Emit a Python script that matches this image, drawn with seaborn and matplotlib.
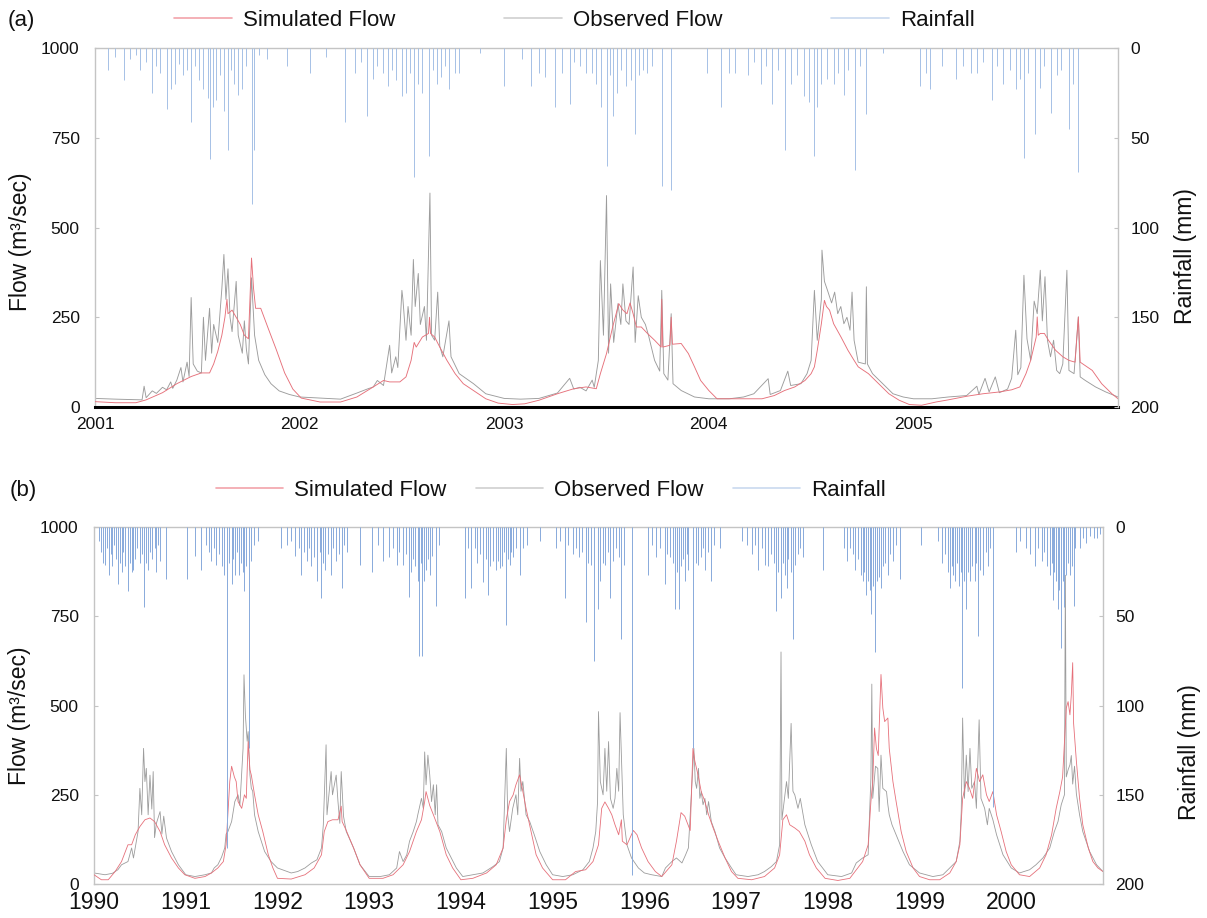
"""
plot.py
=======
Simulated vs observed flow with rainfall hyetograph, two periods.
"""

import matplotlib
matplotlib.use("Agg")
import matplotlib.pyplot as plt
from matplotlib.lines import Line2D
import numpy as np
import pandas as pd
import seaborn as sns

# ── data: panel (a) 2001-2005 (decimal years) ────────────────────────────────

obs_a_t = [2001.00, 2001.10, 2001.23, 2001.24, 2001.25, 2001.28, 2001.30, 2001.33, 2001.35, 2001.37,
           2001.38, 2001.40, 2001.42, 2001.43, 2001.45, 2001.46, 2001.47, 2001.48, 2001.50, 2001.52,
           2001.53, 2001.54, 2001.56, 2001.57, 2001.58, 2001.60, 2001.62, 2001.63, 2001.64, 2001.65,
           2001.66, 2001.67, 2001.69, 2001.70, 2001.72, 2001.73, 2001.74, 2001.75, 2001.765, 2001.78,
           2001.80, 2001.83, 2001.86, 2001.90, 2001.95, 2002.00, 2002.10, 2002.20, 2002.28, 2002.33,
           2002.36, 2002.38, 2002.41, 2002.44, 2002.45, 2002.47, 2002.48, 2002.50, 2002.505, 2002.52,
           2002.53, 2002.545, 2002.556, 2002.565, 2002.58, 2002.59, 2002.61, 2002.62, 2002.637, 2002.645,
           2002.66, 2002.675, 2002.685, 2002.70, 2002.73, 2002.74, 2002.78, 2002.85, 2002.91, 2003.00,
           2003.08, 2003.17, 2003.26, 2003.32, 2003.34, 2003.37, 2003.40, 2003.43, 2003.44, 2003.46,
           2003.47, 2003.485, 2003.50, 2003.51, 2003.52, 2003.535, 2003.556, 2003.57, 2003.58, 2003.595,
           2003.61, 2003.63, 2003.64, 2003.655, 2003.67, 2003.69, 2003.705, 2003.735, 2003.76, 2003.77,
           2003.78, 2003.80, 2003.816, 2003.825, 2003.865, 2003.93, 2004.00, 2004.10, 2004.17, 2004.22,
           2004.29, 2004.30, 2004.35, 2004.386, 2004.40, 2004.45, 2004.48, 2004.50, 2004.516, 2004.53,
           2004.55, 2004.553, 2004.565, 2004.58, 2004.60, 2004.615, 2004.63, 2004.645, 2004.66, 2004.675,
           2004.69, 2004.70, 2004.71, 2004.73, 2004.765, 2004.77, 2004.775, 2004.80, 2004.85, 2004.90,
           2004.95, 2005.00, 2005.09, 2005.17, 2005.26, 2005.31, 2005.32, 2005.35, 2005.37, 2005.40,
           2005.42, 2005.46, 2005.48, 2005.50, 2005.51, 2005.525, 2005.54, 2005.555, 2005.573, 2005.59,
           2005.605, 2005.62, 2005.63, 2005.643, 2005.655, 2005.67, 2005.685, 2005.70, 2005.715, 2005.73,
           2005.75, 2005.76, 2005.785, 2005.806, 2005.815, 2005.84, 2005.89, 2005.94, 2006.00]
obs_a_q = [24, 22, 20, 58, 26, 45, 38, 55, 48, 70,
           52, 75, 110, 70, 125, 85, 305, 120, 100, 95,
           250, 130, 275, 150, 230, 180, 330, 425, 300, 385,
           250, 210, 350, 200, 150, 240, 160, 120, 360, 200,
           130, 90, 65, 45, 35, 28, 25, 22, 39, 50,
           56, 74, 60, 172, 95, 140, 110, 325, 300, 186,
           280, 200, 411, 280, 372, 230, 280, 186, 596, 200,
           186, 320, 170, 140, 240, 140, 93, 65, 37, 24,
           22, 24, 39, 80, 50, 55, 45, 75, 55, 130,
           408, 200, 589, 150, 343, 180, 288, 230, 343, 240,
           230, 390, 180, 310, 250, 230, 200, 130, 100, 325,
           93, 75, 260, 65, 46, 28, 23, 23, 28, 37,
           79, 35, 46, 100, 60, 65, 93, 130, 325, 186,
           300, 437, 350, 325, 290, 320, 260, 280, 232, 250,
           214, 320, 186, 125, 120, 335, 120, 93, 65, 37,
           28, 23, 23, 28, 32, 58, 35, 80, 42, 84,
           40, 50, 80, 214, 90, 110, 367, 190, 130, 295,
           260, 381, 240, 363, 186, 140, 186, 102, 93, 120,
           381, 102, 93, 251, 84, 74, 56, 42, 28]

sim_a_t = [2001.00, 2001.10, 2001.20, 2001.25, 2001.33, 2001.40, 2001.47, 2001.52, 2001.56, 2001.58,
           2001.60, 2001.62, 2001.635, 2001.645, 2001.65, 2001.67, 2001.69, 2001.71, 2001.73, 2001.75,
           2001.765, 2001.775, 2001.785, 2001.81, 2001.846, 2001.886, 2001.927, 2001.967, 2002.008, 2002.10,
           2002.20, 2002.28, 2002.36, 2002.41, 2002.44, 2002.49, 2002.52, 2002.545, 2002.56, 2002.57,
           2002.60, 2002.63, 2002.635, 2002.64, 2002.66, 2002.685, 2002.72, 2002.76, 2002.80, 2002.85,
           2002.91, 2002.97, 2003.04, 2003.10, 2003.17, 2003.26, 2003.34, 2003.40, 2003.45, 2003.47,
           2003.50, 2003.53, 2003.56, 2003.58, 2003.60, 2003.615, 2003.63, 2003.646, 2003.67, 2003.70,
           2003.735, 2003.767, 2003.77, 2003.775, 2003.81, 2003.816, 2003.822, 2003.865, 2003.90, 2003.93,
           2003.96, 2004.00, 2004.04, 2004.17, 2004.26, 2004.32, 2004.37, 2004.42, 2004.47, 2004.50,
           2004.516, 2004.53, 2004.55, 2004.565, 2004.575, 2004.59, 2004.61, 2004.646, 2004.68, 2004.71,
           2004.73, 2004.78, 2004.83, 2004.88, 2004.93, 2004.98, 2005.04, 2005.11, 2005.17, 2005.26,
           2005.34, 2005.42, 2005.48, 2005.52, 2005.55, 2005.573, 2005.60, 2005.605, 2005.61, 2005.62,
           2005.64, 2005.66, 2005.695, 2005.73, 2005.76, 2005.79, 2005.806, 2005.815, 2005.874, 2005.92,
           2005.97, 2006.00]
sim_a_q = [15, 12, 12, 20, 40, 65, 85, 95, 95, 120,
           155, 200, 250, 300, 260, 270, 250, 230, 200, 190,
           415, 330, 275, 275, 220, 160, 95, 50, 25, 14,
           14, 28, 56, 74, 70, 70, 84, 130, 180, 167,
           195, 205, 250, 205, 195, 167, 130, 93, 65, 46,
           23, 11, 7, 9, 19, 37, 51, 56, 51, 93,
           149, 223, 288, 270, 260, 290, 260, 223, 223, 205,
           186, 167, 300, 167, 172, 250, 175, 177, 149, 112,
           74, 46, 23, 23, 23, 32, 46, 56, 74, 93,
           112, 158, 232, 297, 280, 270, 232, 195, 158, 130,
           112, 93, 65, 37, 19, 7, 5, 14, 20, 30,
           37, 42, 48, 56, 93, 130, 195, 251, 200, 205,
           205, 186, 158, 140, 130, 125, 251, 125, 102, 65,
           37, 23]

rain_a_t = [2001.065, 2001.10, 2001.14, 2001.17, 2001.20, 2001.22, 2001.25, 2001.28, 2001.30, 2001.32,
            2001.35, 2001.37, 2001.39, 2001.41, 2001.43, 2001.45, 2001.47, 2001.49, 2001.51, 2001.53,
            2001.55, 2001.56, 2001.575, 2001.59, 2001.61, 2001.63, 2001.65, 2001.665, 2001.68, 2001.70,
            2001.72, 2001.74, 2001.765, 2001.775, 2001.80, 2001.84, 2001.94,
            2002.05, 2002.13, 2002.22, 2002.27, 2002.30, 2002.33, 2002.36, 2002.38, 2002.41, 2002.43,
            2002.45, 2002.47, 2002.50, 2002.52, 2002.54, 2002.56, 2002.58, 2002.60, 2002.63, 2002.65,
            2002.67, 2002.69, 2002.71, 2002.73, 2002.76, 2002.78, 2002.88,
            2003.00, 2003.085, 2003.13, 2003.17, 2003.20, 2003.25, 2003.28, 2003.32, 2003.34, 2003.37,
            2003.40, 2003.43, 2003.45, 2003.474, 2003.50, 2003.515, 2003.53, 2003.55, 2003.57, 2003.596,
            2003.62, 2003.637, 2003.66, 2003.68, 2003.70, 2003.72, 2003.77, 2003.816,
            2003.99, 2004.06, 2004.10, 2004.13, 2004.19, 2004.22, 2004.255, 2004.28, 2004.31, 2004.34,
            2004.37, 2004.40, 2004.43, 2004.467, 2004.49, 2004.516, 2004.53, 2004.55, 2004.58, 2004.61,
            2004.63, 2004.66, 2004.68, 2004.716, 2004.74, 2004.767, 2004.85,
            2005.03, 2005.06, 2005.08, 2005.14, 2005.21, 2005.24, 2005.28, 2005.31, 2005.34, 2005.385,
            2005.41, 2005.44, 2005.47, 2005.50, 2005.52, 2005.54, 2005.56, 2005.594, 2005.62, 2005.64,
            2005.67, 2005.70, 2005.72, 2005.76, 2005.78, 2005.806]
rain_a_mm = [12, 5, 18, 6, 4, 12, 8, 25, 10, 14,
             34, 23, 20, 9, 15, 12, 41, 10, 18, 23,
             28, 62, 33, 29, 15, 35, 57, 12, 20, 26,
             23, 10, 87, 57, 4, 6, 10,
             14, 5, 41, 14, 8, 38, 17, 10, 14, 21,
             12, 18, 27, 25, 14, 72, 20, 25, 60, 12,
             20, 16, 10, 23, 14, 14, 3,
             21, 6, 21, 14, 16, 33, 14, 31, 8, 10,
             14, 14, 20, 33, 66, 15, 38, 25, 12, 21,
             18, 48, 15, 12, 14, 10, 77, 79,
             14, 33, 14, 14, 15, 8, 20, 10, 31, 12,
             57, 20, 15, 27, 30, 60, 33, 20, 17, 20,
             14, 26, 12, 68, 10, 37, 3,
             21, 14, 23, 10, 17, 10, 14, 14, 8, 29,
             10, 20, 12, 23, 17, 61, 14, 48, 22, 10,
             36, 15, 12, 45, 20, 69]

# ── data: panel (b) 1990-2000 (decimal years) ────────────────────────────────

obs_b_t = [1990.00, 1990.12, 1990.20, 1990.26, 1990.30, 1990.37, 1990.41, 1990.43, 1990.48, 1990.50,
           1990.52, 1990.54, 1990.555, 1990.57, 1990.59, 1990.61, 1990.63, 1990.645, 1990.66, 1990.68,
           1990.72, 1990.74, 1990.76, 1990.79, 1990.845, 1990.92, 1991.00, 1991.10, 1991.21, 1991.28,
           1991.31, 1991.35, 1991.39, 1991.425, 1991.44, 1991.46, 1991.50, 1991.535, 1991.57, 1991.59,
           1991.625, 1991.635, 1991.65, 1991.67, 1991.68, 1991.70, 1991.715, 1991.73, 1991.75, 1991.79,
           1991.86, 1991.93, 1992.00, 1992.15, 1992.22, 1992.30, 1992.37, 1992.43, 1992.48, 1992.50,
           1992.53, 1992.54, 1992.585, 1992.60, 1992.64, 1992.66, 1992.68, 1992.695, 1992.72, 1992.75,
           1992.83, 1992.90, 1993.00, 1993.12, 1993.22, 1993.30, 1993.33, 1993.37, 1993.41, 1993.44,
           1993.48, 1993.515, 1993.53, 1993.57, 1993.59, 1993.605, 1993.62, 1993.64, 1993.66, 1993.68,
           1993.70, 1993.72, 1993.735, 1993.75, 1993.79, 1993.84, 1993.95, 1994.02, 1994.13, 1994.24,
           1994.35, 1994.42, 1994.46, 1994.495, 1994.51, 1994.53, 1994.565, 1994.60, 1994.62, 1994.64,
           1994.655, 1994.675, 1994.71, 1994.75, 1994.80, 1994.86, 1994.93, 1995.00, 1995.11, 1995.22,
           1995.33, 1995.40, 1995.44, 1995.47, 1995.49, 1995.50, 1995.52, 1995.55, 1995.57, 1995.59,
           1995.61, 1995.63, 1995.66, 1995.68, 1995.70, 1995.72, 1995.735, 1995.77, 1995.81, 1995.86,
           1995.935, 1996.00, 1996.08, 1996.19, 1996.23, 1996.30, 1996.35, 1996.41, 1996.45, 1996.48,
           1996.50, 1996.515, 1996.54, 1996.555, 1996.57, 1996.59, 1996.605, 1996.62, 1996.64, 1996.66,
           1996.68, 1996.70, 1996.73, 1996.77, 1996.82, 1996.88, 1996.95, 1997.00, 1997.13, 1997.24,
           1997.31, 1997.385, 1997.44, 1997.475, 1997.49, 1997.50, 1997.55, 1997.57, 1997.60, 1997.62,
           1997.64, 1997.675, 1997.70, 1997.75, 1997.82, 1997.89, 1998.00, 1998.15, 1998.26, 1998.31,
           1998.38, 1998.44, 1998.455, 1998.47, 1998.48, 1998.49, 1998.52, 1998.545, 1998.56, 1998.58,
           1998.60, 1998.64, 1998.655, 1998.67, 1998.70, 1998.745, 1998.82, 1998.89, 1999.00, 1999.145,
           1999.255, 1999.33, 1999.40, 1999.44, 1999.455, 1999.47, 1999.49, 1999.51, 1999.53, 1999.55,
           1999.57, 1999.60, 1999.62, 1999.65, 1999.67, 1999.71, 1999.74, 1999.76, 1999.80, 1999.84,
           1999.91, 2000.00, 2000.09, 2000.20, 2000.27, 2000.345, 2000.42, 2000.47, 2000.51, 2000.545,
           2000.58, 2000.59, 2000.60, 2000.62, 2000.64, 2000.655, 2000.67, 2000.69, 2000.71, 2000.745,
           2000.78, 2000.855, 2000.93, 2001.00]
obs_b_q = [31, 26, 30, 40, 54, 63, 101, 73, 147, 268,
           194, 380, 287, 324, 194, 305, 210, 315, 130, 170,
           203, 140, 190, 129, 91, 54, 26, 21, 26, 31,
           45, 54, 75, 101, 140, 147, 175, 231, 250, 220,
           380, 586, 474, 400, 427, 305, 268, 260, 194, 147,
           91, 63, 45, 31, 35, 45, 59, 68, 101, 166,
           390, 194, 315, 250, 305, 230, 170, 315, 190, 147,
           101, 54, 21, 21, 26, 45, 91, 63, 82, 120,
           147, 175, 194, 240, 212, 370, 278, 361, 306, 231,
           278, 194, 278, 166, 147, 101, 45, 21, 26, 31,
           49, 63, 101, 380, 194, 147, 212, 250, 194, 352,
           260, 287, 194, 175, 138, 91, 54, 26, 21, 26,
           40, 63, 101, 147, 231, 483, 287, 250, 380, 260,
           399, 240, 212, 240, 324, 260, 480, 194, 110, 73,
           45, 31, 26, 21, 45, 63, 73, 59, 82, 101,
           194, 268, 380, 287, 268, 324, 240, 259, 222, 240,
           194, 231, 175, 147, 101, 73, 45, 26, 21, 26,
           35, 49, 63, 110, 650, 180, 287, 240, 450, 260,
           250, 212, 240, 166, 110, 63, 26, 21, 31, 59,
           73, 82, 194, 296, 560, 240, 330, 324, 203, 361,
           268, 259, 222, 194, 166, 138, 91, 54, 31, 21,
           26, 45, 63, 120, 203, 465, 240, 361, 259, 380,
           268, 287, 212, 460, 240, 212, 166, 212, 180, 138,
           82, 45, 31, 40, 54, 73, 101, 147, 175, 222,
           250, 865, 300, 320, 334, 360, 280, 330, 253, 194,
           147, 91, 54, 35]

sim_b_t = [1990.00, 1990.08, 1990.155, 1990.23, 1990.30, 1990.37, 1990.41, 1990.45, 1990.50, 1990.555,
           1990.61, 1990.66, 1990.72, 1990.77, 1990.845, 1990.92, 1990.99, 1991.10, 1991.21, 1991.28,
           1991.35, 1991.41, 1991.44, 1991.48, 1991.50, 1991.53, 1991.55, 1991.57, 1991.61, 1991.64,
           1991.66, 1991.68, 1991.70, 1991.715, 1991.75, 1991.79, 1991.84, 1991.90, 1991.95, 1992.00,
           1992.15, 1992.30, 1992.40, 1992.48, 1992.51, 1992.55, 1992.60, 1992.66, 1992.695, 1992.705,
           1992.75, 1992.83, 1992.90, 1993.00, 1993.15, 1993.26, 1993.37, 1993.44, 1993.515, 1993.57,
           1993.605, 1993.62, 1993.64, 1993.66, 1993.70, 1993.77, 1993.84, 1993.91, 1994.00, 1994.13,
           1994.28, 1994.385, 1994.46, 1994.495, 1994.53, 1994.57, 1994.60, 1994.64, 1994.675, 1994.71,
           1994.765, 1994.82, 1994.89, 1995.00, 1995.14, 1995.25, 1995.36, 1995.44, 1995.50, 1995.535,
           1995.57, 1995.61, 1995.645, 1995.68, 1995.72, 1995.75, 1995.76, 1995.81, 1995.88, 1995.92,
           1995.97, 1996.04, 1996.12, 1996.19, 1996.30, 1996.35, 1996.40, 1996.44, 1996.50, 1996.53,
           1996.55, 1996.59, 1996.62, 1996.66, 1996.70, 1996.75, 1996.805, 1996.88, 1996.95, 1997.02,
           1997.17, 1997.31, 1997.42, 1997.475, 1997.51, 1997.55, 1997.585, 1997.64, 1997.69, 1997.75,
           1997.80, 1997.875, 1997.97, 1998.11, 1998.24, 1998.38, 1998.44, 1998.47, 1998.49, 1998.51,
           1998.53, 1998.55, 1998.58, 1998.60, 1998.62, 1998.655, 1998.67, 1998.71, 1998.745, 1998.80,
           1998.855, 1998.93, 1999.00, 1999.11, 1999.22, 1999.33, 1999.40, 1999.44, 1999.47, 1999.51,
           1999.545, 1999.58, 1999.62, 1999.655, 1999.69, 1999.73, 1999.76, 1999.80, 1999.84, 1999.89,
           1999.945, 2000.00, 2000.09, 2000.20, 2000.31, 2000.38, 2000.44, 2000.49, 2000.53, 2000.56,
           2000.60, 2000.62, 2000.64, 2000.655, 2000.67, 2000.68, 2000.71, 2000.745, 2000.78, 2000.84,
           2000.89, 2000.945, 2001.00]
sim_b_q = [26, 12, 12, 35, 63, 110, 110, 138, 161, 180,
           185, 175, 147, 110, 73, 45, 26, 16, 21, 31,
           45, 63, 110, 287, 330, 300, 287, 231, 212, 250,
           240, 399, 320, 305, 250, 194, 147, 82, 45, 16,
           14, 26, 45, 82, 147, 175, 180, 180, 218, 175,
           150, 101, 54, 16, 16, 26, 54, 91, 147, 180,
           231, 259, 240, 220, 194, 147, 82, 45, 12, 16,
           31, 54, 101, 180, 231, 250, 278, 306, 260, 212,
           147, 82, 45, 12, 12, 35, 40, 63, 110, 212,
           230, 212, 194, 166, 138, 180, 120, 110, 150, 138,
           101, 63, 35, 21, 54, 120, 200, 190, 150, 380,
           345, 300, 259, 231, 194, 157, 120, 73, 35, 16,
           12, 21, 45, 82, 180, 194, 166, 157, 147, 120,
           82, 45, 16, 10, 16, 63, 110, 231, 287, 437,
           380, 360, 587, 493, 455, 465, 380, 287, 231, 147,
           91, 45, 21, 12, 12, 31, 63, 110, 240, 287,
           268, 240, 324, 287, 306, 250, 231, 259, 194, 147,
           91, 54, 26, 21, 45, 82, 138, 212, 259, 300,
           493, 511, 474, 530, 620, 450, 345, 240, 166, 101,
           63, 45, 35]

rain_b_t = [1990.05, 1990.08, 1990.10, 1990.12, 1990.14, 1990.16, 1990.18, 1990.20, 1990.22, 1990.24,
            1990.265, 1990.28, 1990.30, 1990.32, 1990.34, 1990.37, 1990.39, 1990.41, 1990.43, 1990.45,
            1990.47, 1990.50, 1990.52, 1990.55, 1990.57, 1990.59, 1990.61, 1990.63, 1990.66, 1990.68,
            1990.70, 1990.72, 1990.79,
            1991.01, 1991.10, 1991.17, 1991.22, 1991.25, 1991.28, 1991.31, 1991.33, 1991.36, 1991.39,
            1991.42, 1991.455, 1991.47, 1991.50, 1991.52, 1991.54, 1991.56, 1991.58, 1991.60, 1991.62,
            1991.64, 1991.66, 1991.69, 1991.71, 1991.74, 1991.79,
            1992.04, 1992.10, 1992.15, 1992.19, 1992.23, 1992.26, 1992.29, 1992.32, 1992.34, 1992.37,
            1992.40, 1992.43, 1992.46, 1992.48, 1992.50, 1992.52, 1992.55, 1992.585, 1992.61, 1992.64,
            1992.67, 1992.70, 1992.72, 1992.76, 1992.90,
            1993.03, 1993.10, 1993.15, 1993.22, 1993.26, 1993.30, 1993.33, 1993.37, 1993.40, 1993.435,
            1993.46, 1993.48, 1993.50, 1993.53, 1993.545, 1993.56, 1993.58, 1993.60, 1993.62, 1993.64,
            1993.66, 1993.69, 1993.73, 1993.76,
            1994.04, 1994.08, 1994.11, 1994.15, 1994.18, 1994.21, 1994.24, 1994.27, 1994.295, 1994.32,
            1994.35, 1994.38, 1994.40, 1994.43, 1994.45, 1994.47, 1994.49, 1994.51, 1994.53, 1994.55,
            1994.57, 1994.60, 1994.64, 1994.68, 1994.72, 1994.86,
            1995.04, 1995.08, 1995.13, 1995.17, 1995.22, 1995.26, 1995.29, 1995.32, 1995.365, 1995.39,
            1995.42, 1995.455, 1995.49, 1995.52, 1995.55, 1995.57, 1995.60, 1995.63, 1995.66, 1995.69,
            1995.72, 1995.75, 1995.78, 1995.86,
            1996.04, 1996.08, 1996.13, 1996.17, 1996.22, 1996.25, 1996.28, 1996.31, 1996.33, 1996.36,
            1996.38, 1996.40, 1996.42, 1996.44, 1996.46, 1996.48, 1996.53, 1996.56, 1996.59, 1996.62,
            1996.64, 1996.66, 1996.69, 1996.73, 1996.76, 1996.82,
            1997.06, 1997.12, 1997.17, 1997.21, 1997.24, 1997.28, 1997.31, 1997.35, 1997.38, 1997.41,
            1997.44, 1997.46, 1997.49, 1997.51, 1997.53, 1997.55, 1997.57, 1997.60, 1997.62, 1997.645,
            1997.67, 1997.70, 1997.73, 1997.95,
            1998.18, 1998.21, 1998.24, 1998.27, 1998.30, 1998.33, 1998.36, 1998.38, 1998.40, 1998.42,
            1998.44, 1998.46, 1998.47, 1998.49, 1998.51, 1998.52, 1998.54, 1998.56, 1998.58, 1998.60,
            1998.62, 1998.655, 1998.68, 1998.71, 1998.74, 1998.79,
            1999.02, 1999.20, 1999.25, 1999.28, 1999.31, 1999.33, 1999.35, 1999.37, 1999.39, 1999.41,
            1999.43, 1999.45, 1999.465, 1999.49, 1999.51, 1999.53, 1999.545, 1999.57, 1999.60, 1999.62,
            1999.64, 1999.66, 1999.69, 1999.72, 1999.745, 1999.77, 1999.80,
            2000.055, 2000.10, 2000.16, 2000.21, 2000.255, 2000.29, 2000.33, 2000.36, 2000.39, 2000.42,
            2000.44, 2000.455, 2000.47, 2000.49, 2000.51, 2000.525, 2000.54, 2000.56, 2000.58, 2000.60,
            2000.62, 2000.64, 2000.66, 2000.68, 2000.70, 2000.745, 2000.78, 2000.82, 2000.86, 2000.90,
            2000.93, 2000.97]
rain_b_mm = [8, 14, 20, 21, 12, 27, 15, 22, 10, 18,
             32, 20, 25, 14, 22, 36, 20, 25, 24, 18,
             12, 20, 15, 45, 20, 24, 14, 18, 12, 25,
             10, 19, 29,
             29, 16, 24, 10, 14, 19, 12, 21, 15, 22,
             27, 180, 20, 32, 18, 27, 14, 27, 20, 25,
             36, 22, 124, 19, 10, 8,
             12, 10, 8, 16, 12, 27, 14, 19, 12, 22,
             17, 30, 14, 40, 20, 24, 15, 27, 12, 19,
             15, 34, 10, 14, 21,
             25, 10, 19, 17, 12, 21, 14, 21, 15, 39,
             25, 18, 22, 30, 72, 20, 72, 30, 24, 18,
             27, 16, 44, 10,
             40, 12, 34, 12, 20, 15, 31, 18, 38, 22,
             19, 24, 19, 23, 22, 14, 55, 18, 21, 14,
             17, 12, 27, 12, 10, 8,
             12, 8, 40, 10, 15, 12, 17, 14, 53, 20,
             21, 75, 46, 30, 20, 21, 14, 40, 19, 12,
             17, 63, 21, 195,
             27, 10, 17, 12, 32, 15, 17, 20, 46, 25,
             46, 22, 18, 30, 15, 24, 124, 20, 21, 17,
             12, 24, 14, 30, 10, 12,
             8, 10, 15, 10, 24, 12, 21, 22, 15, 20,
             47, 25, 40, 20, 27, 34, 18, 25, 63, 21,
             15, 12, 17, 24,
             12, 19, 12, 15, 24, 18, 27, 30, 25, 38,
             30, 35, 49, 33, 53, 70, 30, 28, 34, 22,
             20, 27, 15, 19, 10, 29,
             10, 8, 20, 15, 25, 34, 22, 27, 30, 20,
             33, 25, 90, 30, 46, 25, 30, 22, 30, 20,
             61, 24, 27, 14, 22, 12, 157,
             14, 8, 12, 15, 22, 12, 19, 14, 22, 27,
             20, 41, 25, 30, 46, 35, 68, 30, 45, 27,
             20, 27, 22, 44, 12, 12, 6, 9, 5, 6,
             6, 4]

SERIES = ["Simulated Flow", "Observed Flow", "Rainfall"]
YEARS_A = [2001, 2002, 2003, 2004, 2005]
YEARS_B = [1990, 1991, 1992, 1993, 1994, 1995, 1996, 1997, 1998, 1999, 2000]

# ── style ────────────────────────────────────────────────────────────────────

C_SIM = "#e6707a"
C_OBS = "#9c9c9c"
C_RAIN_A = "#a6c1e6"
C_RAIN_B = "#88aadb"
C_SPINE = "#c4c4c4"

sns.set_style("white")
plt.rcParams.update({
    "font.family": ["Liberation Sans", "DejaVu Sans"],
    "text.color": "#111111",
    "xtick.color": "#111111",
    "ytick.color": "#111111",
    "axes.labelcolor": "#111111",
    "axes.edgecolor": C_SPINE,
    "axes.linewidth": 1.0,
})


def draw_panel(ax, obs_t, obs_q, sim_t, sim_q, rain_t, rain_mm, years, xlim, rain_col, lw):
    obs = pd.DataFrame({"t": obs_t, "q": obs_q})
    sim = pd.DataFrame({"t": sim_t, "q": sim_q})
    sns.lineplot(data=obs, x="t", y="q", ax=ax, color=C_OBS, lw=lw,
                 estimator=None, sort=False, zorder=2)
    sns.lineplot(data=sim, x="t", y="q", ax=ax, color=C_SIM, lw=lw,
                 estimator=None, sort=False, zorder=3)
    ax.set_xlim(*xlim)
    ax.set_ylim(0, 1000)
    ax.set_yticks([0, 250, 500, 750, 1000])
    ax.set_xticks(years)
    ax.set_xticklabels([str(y) for y in years])
    ax.set_xlabel("")
    ax.set_ylabel("Flow (m³/sec)", fontsize=16.5)
    ax.tick_params(axis="y", direction="in", length=3, color=C_SPINE,
                   labelsize=12.5, pad=11)
    ax.spines["right"].set_visible(False)

    ax2 = ax.twinx()
    ax2.vlines(rain_t, 0, rain_mm, color=rain_col, lw=0.7)
    ax2.set_ylim(200, 0)
    ax2.set_yticks([0, 50, 100, 150, 200])
    ax2.set_ylabel("Rainfall (mm)", fontsize=16.5)
    ax2.tick_params(axis="y", direction="in", length=3, color=C_SPINE,
                    labelsize=12.5, pad=9)
    for s in ["left", "top", "bottom"]:
        ax2.spines[s].set_visible(False)
    ax2.spines["right"].set_color(C_SPINE)
    return ax2


fig = plt.figure(figsize=(12.07, 9.18), dpi=100)

# ── (a) 2001-2005 ─────────────────────────────────────────────────────────────
ax_a = fig.add_axes([0.0787, 0.5566, 0.8476, 0.3911])
ax_a2 = draw_panel(ax_a, obs_a_t, obs_a_q, sim_a_t, sim_a_q, rain_a_t, rain_a_mm,
                   YEARS_A, (2001, 2006), C_RAIN_A, 0.65)
ax_a.spines["bottom"].set_color("black")
ax_a.spines["bottom"].set_linewidth(2.2)
ax_a.tick_params(axis="x", direction="inout", length=7, width=1.5, color="black",
                 labelsize=12.5, pad=4)
ax_a.yaxis.set_label_coords(-0.062, 0.46)
ax_a2.yaxis.set_label_coords(1.055, 0.42)

# ── (b) 1990-2000 ─────────────────────────────────────────────────────────────
ax_b = fig.add_axes([0.0779, 0.0370, 0.8359, 0.3889])
ax_b2 = draw_panel(ax_b, obs_b_t, obs_b_q, sim_b_t, sim_b_q, rain_b_t, rain_b_mm,
                   YEARS_B, (1990, 2001), C_RAIN_B, 0.6)
ax_b.tick_params(axis="x", direction="in", length=4, color="#a8a8a8",
                 labelsize=16.5, pad=5)
ax_b.yaxis.set_label_coords(-0.062, 0.47)
ax_b2.yaxis.set_label_coords(1.074, 0.37)

# ── legends and panel tags ───────────────────────────────────────────────────
handle_cols = ["#f2a3aa", "#cfcfcf", "#c9d9ef"]
handles = [Line2D([], [], color=c, lw=1.2) for c in handle_cols]
fig.legend(handles, SERIES, loc="center", bbox_to_anchor=(0.476, 0.978), ncol=3,
           frameon=False, fontsize=16, handlelength=2.6, handletextpad=0.5,
           columnspacing=4.9)
fig.legend(handles, SERIES, loc="center", bbox_to_anchor=(0.4565, 0.466), ncol=3,
           frameon=False, fontsize=16, handlelength=3.0, handletextpad=0.5,
           columnspacing=1.35)
fig.text(0.006, 0.978, "(a)", fontsize=16, va="center", ha="left")
fig.text(0.008, 0.466, "(b)", fontsize=16, va="center", ha="left")

fig.savefig("out.png", dpi=100)
